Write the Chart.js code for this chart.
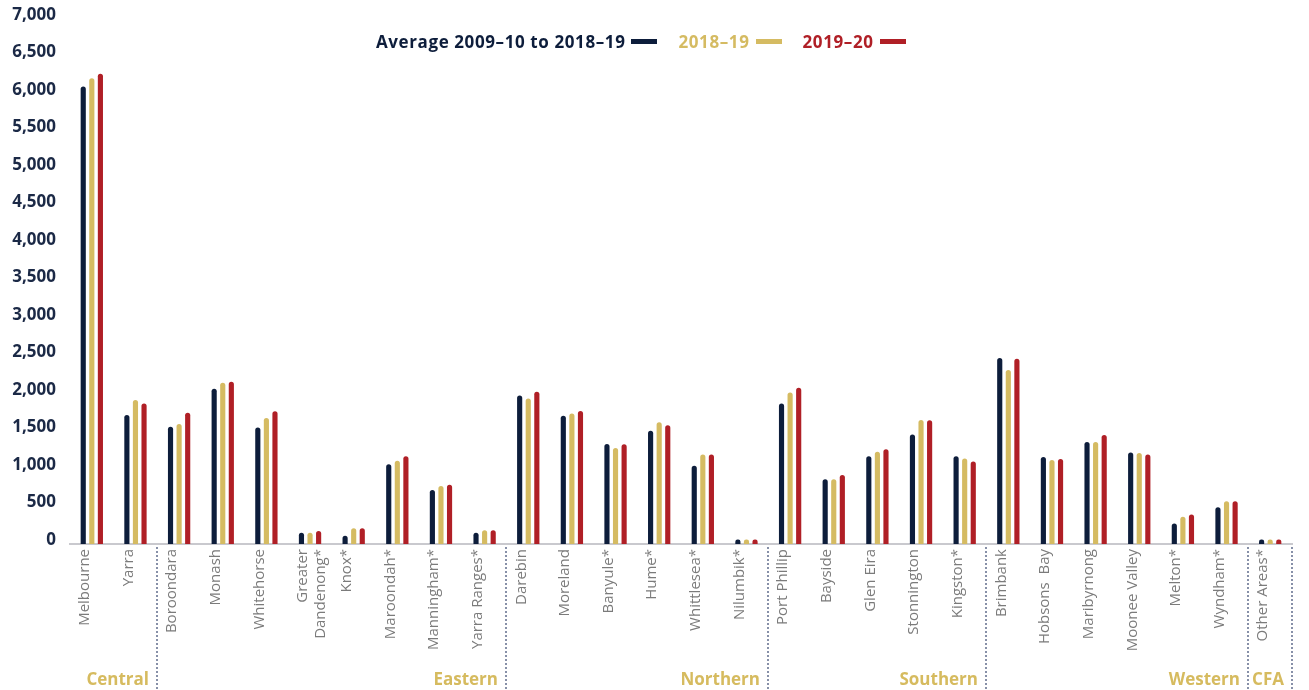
<!DOCTYPE html>
<html>
<head>
<meta charset="utf-8">
<script src="https://cdn.jsdelivr.net/npm/chart.js@4.4.1/dist/chart.umd.min.js"></script>
<style>
    body { margin: 0; background: #fff; }
    #wrap { position: relative; width: 1309px; height: 690px; }
    #legend {
        position: absolute; left: 376px; top: 30px;
        display: flex; align-items: center;
        font: bold 17px "Open Sans", sans-serif;
        letter-spacing: 0.6px;
    }
    #legend .item { display: flex; align-items: center; margin-right: 21px; }
    #legend .swatch { display: inline-block; width: 26px; height: 5px; margin-left: 6px; }
</style>
</head>
<body>
<div id="wrap">
    <canvas id="bar-chart"></canvas>
    <div id="legend"></div>
</div>
<script>
const councils = [
    "Melbourne", "Yarra", "Boroondara", "Monash", "Whitehorse", ["Greater", "Dandenong*"],
    "Knox*", "Maroondah*", "Manningham*", "Yarra Ranges*", "Darebin", "Moreland",
    "Banyule*", "Hume*", "Whittlesea*", "Nilumbik*", "Port Phillip", "Bayside",
    "Glen Eira", "Stonnington", "Kingston*", "Brimbank", "Hobsons  Bay", "Maribyrnong",
    "Moonee Valley", "Melton*", "Wyndham*", "Other Areas*",
];

const average = [
    6100, 1720, 1565, 2070, 1555, 150, 110, 1065, 720, 150, 1980, 1710, 1335, 1510,
    1045, 60, 1875, 865, 1170, 1460, 1170, 2480, 1160, 1360, 1220, 275, 490, 60,
];
const year2018 = [
    6210, 1920, 1600, 2150, 1680, 150, 210, 1110, 775, 185, 1940, 1740, 1280, 1625,
    1195, 60, 2020, 865, 1230, 1655, 1140, 2320, 1120, 1360, 1215, 365, 570, 60,
];
const year2019 = [
    6270, 1875, 1750, 2165, 1770, 175, 210, 1170, 790, 185, 2030, 1775, 1330, 1585,
    1195, 60, 2085, 920, 1265, 1650, 1100, 2470, 1135, 1455, 1195, 395, 570, 60,
];

const seriesNames = ["Average 2009\u201310 to 2018\u201319", "2018\u201319", "2019\u201320"];
const seriesColors = ["#0d1d3b", "#d5bb62", "#b01f26"];

// regions and the index of the last council in each
const regions = ["Central", "Eastern", "Northern", "Southern", "Western", "CFA"];
const regionEnds = [1, 9, 15, 20, 26, 27];

const yTicks = { min: 0, max: 7000, step: 500 };

// dotted dividers under the axis plus region names
const regionPlugin = {
    id: "regions",
    afterDraw(chart) {
        const { ctx, chartArea } = chart;
        const x = chart.scales.x;
        const half = (x.getPixelForTick(1) - x.getPixelForTick(0)) / 2;
        ctx.save();
        regionEnds.forEach((end, i) => {
            const px = Math.round(x.getPixelForTick(end) + half);
            ctx.strokeStyle = "#8790a8";
            ctx.lineWidth = 2;
            ctx.setLineDash([2, 2]);
            ctx.beginPath();
            ctx.moveTo(px, chartArea.bottom + 3);
            ctx.lineTo(px, chart.height);
            ctx.stroke();

            ctx.fillStyle = "#d6bb5f";
            ctx.font = "bold 17px 'Open Sans', sans-serif";
            ctx.textAlign = "right";
            ctx.textBaseline = "middle";
            ctx.fillText(regions[i], px - 8, 680);
        });
        ctx.restore();
    },
};

const legend = document.getElementById("legend");
seriesNames.forEach((name, i) => {
    const item = document.createElement("span");
    item.className = "item";
    item.style.color = seriesColors[i];
    item.innerHTML = name + '<span class="swatch" style="background:' + seriesColors[i] + '"></span>';
    legend.appendChild(item);
});

const ctx = document.getElementById("bar-chart");

new Chart(ctx, {
    type: "bar",
    data: {
        labels: councils,
        datasets: [average, year2018, year2019].map((values, i) => ({
            label: seriesNames[i],
            data: values,
            backgroundColor: seriesColors[i],
            borderRadius: { topLeft: 3, topRight: 3 },
            borderSkipped: "bottom",
            categoryPercentage: 0.59,
            barPercentage: 0.6,
        })),
    },
    options: {
        responsive: true,
        maintainAspectRatio: false,
        animation: false,
        layout: { padding: { top: 19, right: 17, left: 0, bottom: 0 } },
        plugins: {
            legend: { display: false },
            tooltip: { enabled: false },
        },
        scales: {
            x: {
                grid: { display: false, drawTicks: false },
                border: { color: "#c9c9ce", width: 2 },
                ticks: {
                    color: "#7b7b7b",
                    font: { family: "Open Sans", size: 15 },
                    minRotation: 90,
                    maxRotation: 90,
                    autoSkip: false,
                    padding: 5,
                    labelOffset: -7,
                },
                afterFit: (scale) => { scale.height = 146; },
            },
            y: {
                min: yTicks.min,
                max: yTicks.max,
                grid: { display: false, drawTicks: false },
                border: { display: false },
                ticks: {
                    stepSize: yTicks.step,
                    color: "#1b2946",
                    font: { family: "Open Sans", size: 17, weight: "bold" },
                    padding: 14,
                    labelOffset: -4,
                },
                afterFit: (scale) => {
                    scale.width = 70;
                    scale.paddingTop = 0;
                    scale.paddingBottom = 0;
                },
            },
        },
    },
    plugins: [regionPlugin],
});
</script>
</body>
</html>
